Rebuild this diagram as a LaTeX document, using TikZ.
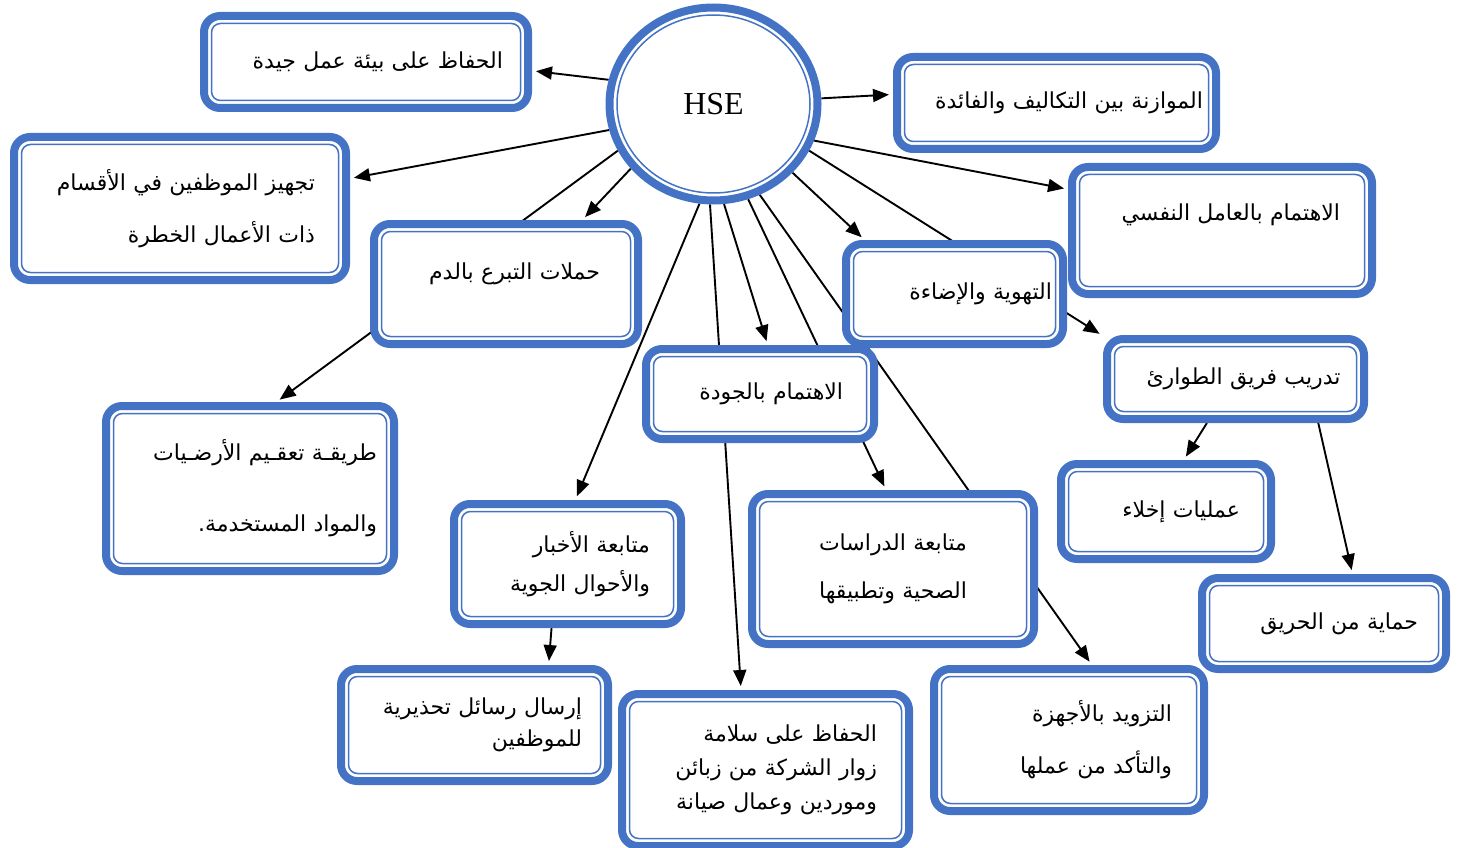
\documentclass[tikz,border=0pt]{standalone}
\usepackage{fontspec}
\setmainfont{Liberation Serif}
\newfontfamily\arabicfont[Script=Arabic]{DejaVu Sans}
\TeXXeTstate=1
\usepackage{tikz}
\usetikzlibrary{arrows.meta, shapes.geometric, backgrounds}
\definecolor{hseblue}{RGB}{68,114,196}

\tikzset{
  box/.style={draw=hseblue, line width=8pt, fill=white, rounded corners=16pt,
    inner sep=0pt, align=right, font=\arabicfont\fontsize{22}{24}\selectfont,
    path picture={\draw[hseblue, line width=1.5pt, rounded corners=9pt]
      ([shift={(7.5pt,-7.5pt)}]path picture bounding box.north west) rectangle
      ([shift={(-7.5pt,7.5pt)}]path picture bounding box.south east);}},
  arr/.style={-{Triangle[length=16pt,width=13pt]}, line width=1.9pt, shorten >=4pt}
}

\begin{document}
\begin{tikzpicture}[x=1pt, y=-1pt]
\useasboundingbox (0,0) rectangle (1460,848);

\node[ellipse, draw=hseblue, line width=8pt, fill=white, minimum width=208pt,
  minimum height=193pt, font=\fontsize{32}{38}\selectfont,
  path picture={\draw[hseblue, line width=1.5pt] (path picture bounding box.center)
    ellipse [x radius=96.5pt, y radius=89pt];}] (hse) at (713.5,104) {HSE};

\node[box, minimum width=324pt, minimum height=92pt, text width=274pt] (keep) at (366,62)
  {\beginR الحفاظ على بيئة عمل جيدة\endR};
\node[box, minimum width=319pt, minimum height=92pt, text width=293pt] (balance) at (1056.5,103)
  {\beginR الموازنة بين التكاليف والفائدة\endR};
\node[box, minimum width=332pt, minimum height=143pt, text width=270pt] (equip) at (180,208.5)
  {\beginR تجهيز الموظفين في الأقسام\endR\\[24pt]\beginR ذات الأعمال الخطرة\endR};
\node[box, minimum width=264pt, minimum height=120pt, text width=188pt,
  text height=16pt, text depth=25pt] (blood) at (506,284)
  {\beginR حملات التبرع بالدم\endR};
\node[box, minimum width=300pt, minimum height=127pt, text width=236pt,
  text height=16pt, text depth=36pt] (psych) at (1222,230.5)
  {\beginR الاهتمام بالعامل النفسي\endR};
\node[box, minimum width=217pt, minimum height=100pt, text width=195pt] (air) at (954.5,294)
  {\beginR التهوية والإضاءة\endR};
\node[box, minimum width=257pt, minimum height=80pt, text width=210pt] (emergency) at (1235.5,379)
  {\beginR تدريب فريق الطوارئ\endR};
\node[box, minimum width=228pt, minimum height=90pt, text width=166pt] (quality) at (760,394)
  {\beginR الاهتمام بالجودة\endR};
\node[box, minimum width=288pt, minimum height=165pt, text width=254pt] (floors) at (250,488.5)
  {\beginR طريقـة تعقـيم الأرضـيات\endR\\[47pt]\beginR والمواد المستخدمة.\endR};
\node[box, minimum width=227pt, minimum height=120pt, text width=165pt] (news) at (567.5,564)
  {\beginR متابعة الأخبار\endR\\[11pt]\beginR والأحوال الجوية\endR};
\node[box, minimum width=282pt, minimum height=150pt, text width=200pt, align=center] (studies) at (893,569)
  {\beginR متابعة الدراسات\endR\\[24pt]\beginR الصحية وتطبيقها\endR};
\node[box, minimum width=210pt, minimum height=95pt, text width=148pt] (evac) at (1166,511.5)
  {\beginR عمليات إخلاء\endR};
\node[box, minimum width=244pt, minimum height=91pt, text width=188pt] (fire) at (1324,623.5)
  {\beginR حماية من الحريق\endR};
\node[box, minimum width=267pt, minimum height=112pt, text width=215pt] (alerts) at (474.5,725)
  {\beginR إرسال رسائل تحذيرية\endR\\[8pt]\beginR للموظفين\endR};
\node[box, minimum width=287pt, minimum height=152pt, text width=223pt] (visitors) at (765.5,770)
  {\beginR الحفاظ على سلامة\endR\\[10pt]\beginR زوار الشركة من زبائن\endR\\[10pt]\beginR وموردين وعمال صيانة\endR};
\node[box, minimum width=270pt, minimum height=142pt, text width=206pt] (devices) at (1069,740)
  {\beginR التزويد بالأجهزة\endR\\[23pt]\beginR والتأكد من عملها\endR};

\begin{pgfonlayer}{background}
\path[arr] (hse.167) edge (keep.-3)
  (hse.3) edge (balance.177)
  (hse.194) edge (equip.10)
  (hse.218) edge (blood.40)
  (hse.206) edge (floors.73)
  (hse.262) edge (news.83)
  (hse.268) edge (visitors.107)
  (hse.276) edge (quality.81)
  (hse.290) edge (studies.95)
  (hse.297) edge (devices.73)
  (hse.319) edge (air.149)
  (hse.334) edge (emergency.162)
  (hse.340) edge (psych.165);
\path[arr] (news.256) edge (alerts.39)
  (emergency.237) edge (evac.71)
  (emergency.332) edge (fire.60);
\end{pgfonlayer}
\end{tikzpicture}
\end{document}
